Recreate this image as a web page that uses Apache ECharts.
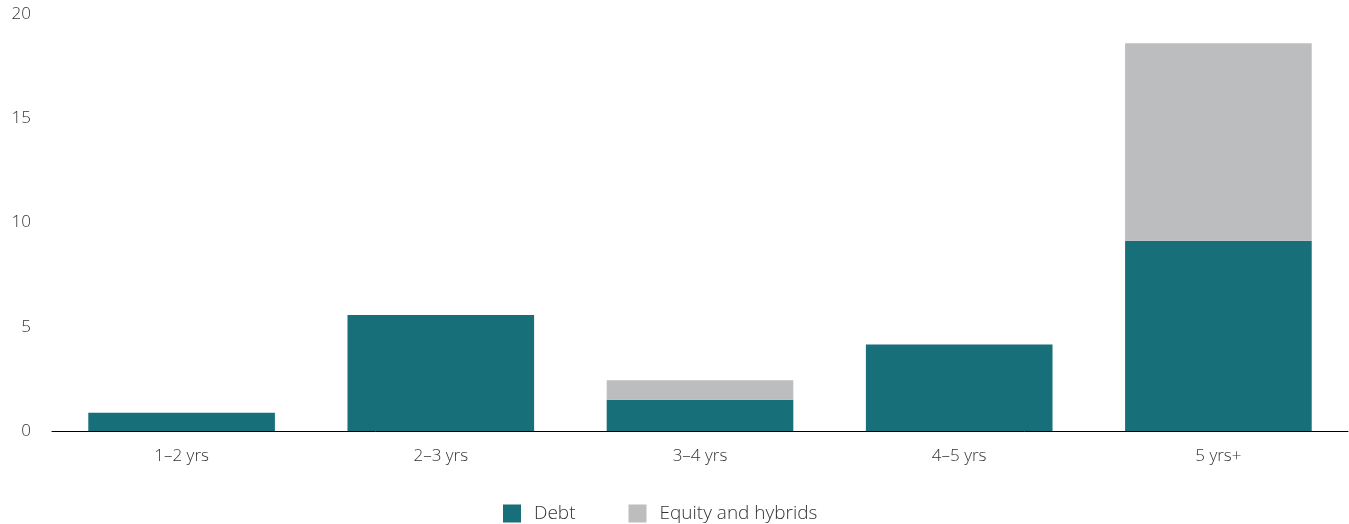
<!DOCTYPE html>
<html>
<head>
<meta charset="utf-8">
<style>
  html, body { margin: 0; padding: 0; background: #ffffff; }
  #chart { width: 1349px; height: 524px; }
</style>
<script src="https://cdn.jsdelivr.net/npm/echarts@6/dist/echarts.min.js"></script>
</head>
<body>
<div id="chart"></div>
<script>
// Maturity buckets and amounts per bucket
const categories = ['1–2 yrs', '2–3 yrs', '3–4 yrs', '4–5 yrs', '5 yrs+'];
const debt = [0.88, 5.56, 1.5, 4.15, 9.12];
const equityHybrids = [0, 0, 0.94, 0, 9.48];
const yTicks = [0, 5, 10, 15, 20];

const FONT = '"Open Sans", "Noto Sans", sans-serif';
const TEXT = '#333333';

const chart = echarts.init(document.getElementById('chart'), null, { renderer: 'canvas' });

chart.setOption({
  animation: false,
  grid: { left: 52, right: 1, top: 14, bottom: 93, containLabel: false },
  legend: {
    bottom: 1,
    left: 503,
    padding: 0,
    itemWidth: 18,
    itemHeight: 18,
    itemGap: 53,
    icon: 'rect',
    textStyle: { fontFamily: FONT, fontSize: 19, fontWeight: 300, color: TEXT, padding: [0, 0, 0, 8] },
    data: ['Debt', 'Equity and hybrids']
  },
  xAxis: {
    type: 'category',
    data: categories,
    axisLine: { show: true, lineStyle: { color: '#000000', width: 1 } },
    axisTick: { show: false },
    axisLabel: { fontFamily: FONT, fontSize: 17, fontWeight: 300, color: TEXT, margin: 17 }
  },
  yAxis: {
    type: 'value',
    min: yTicks[0],
    max: yTicks[yTicks.length - 1],
    interval: 5,
    axisLine: { show: false },
    axisTick: { show: false },
    splitLine: { show: false },
    axisLabel: { fontFamily: FONT, fontSize: 17, fontWeight: 300, color: TEXT, margin: 21 }
  },
  series: [
    {
      name: 'Debt',
      type: 'bar',
      stack: 'total',
      data: debt,
      barCategoryGap: '28%',
      itemStyle: { color: '#176f79' }
    },
    {
      name: 'Equity and hybrids',
      type: 'bar',
      stack: 'total',
      data: equityHybrids,
      barCategoryGap: '28%',
      itemStyle: { color: '#bcbdbf' }
    }
  ]
});
</script>
</body>
</html>
